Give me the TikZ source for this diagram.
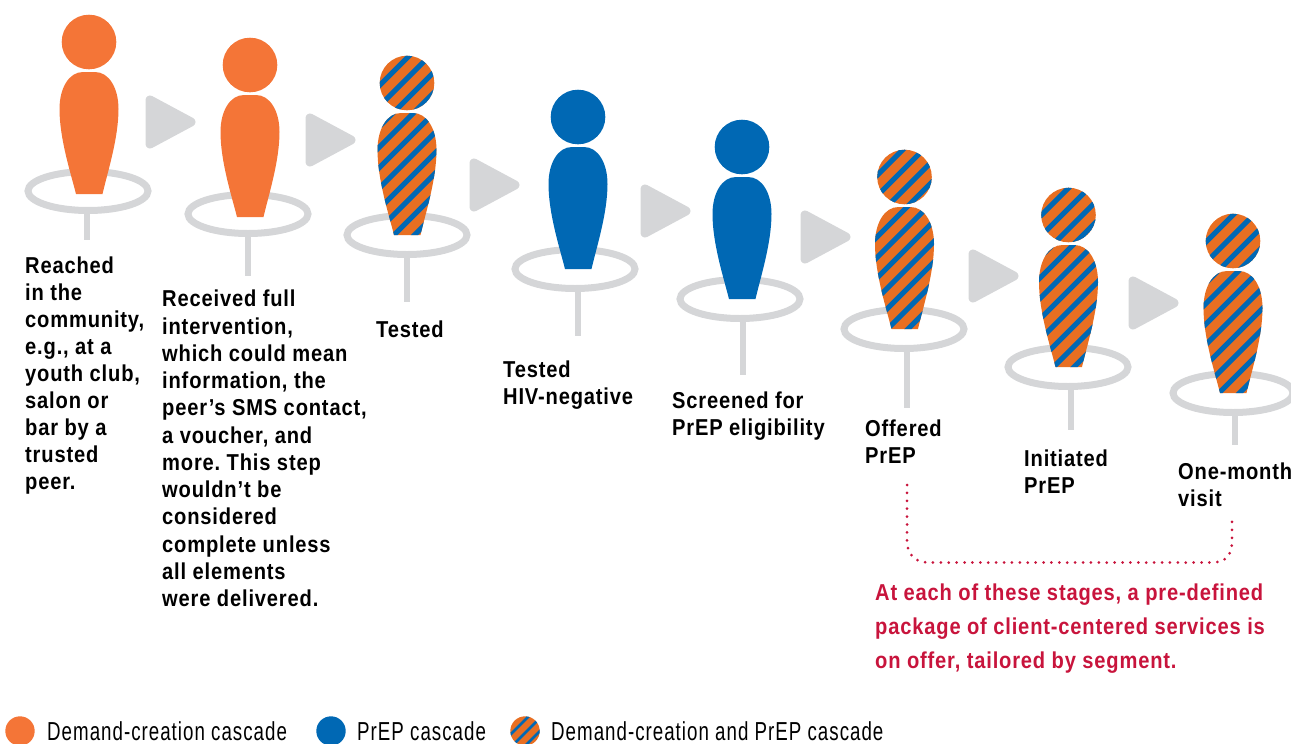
\documentclass[tikz,border=0pt]{standalone}
\usepackage{fontspec}
\newfontfamily\lbf[FakeStretch=0.875,LetterSpace=3.6]{Liberation Sans}
\newfontfamily\lgf[FakeStretch=0.72,LetterSpace=3.9]{Liberation Sans}
\definecolor{orangeS}{HTML}{F47537}
\definecolor{orangeM}{HTML}{E86F22}
\definecolor{blueS}{HTML}{0068B4}
\definecolor{greyS}{HTML}{D5D6D8}
\definecolor{redS}{HTML}{C8143C}
\tikzset{
  x=1pt,y=-1pt,
  ringline/.style={draw=greyS,line width=7pt},
  stemline/.style={draw=greyS,line width=5.5pt},
  flow/.style={fill=greyS,draw=greyS,line width=9pt,line join=round},
  stripe/.style={draw=blueS,line width=5.2pt},
  lab/.style={font=\lbf\bfseries\frenchspacing\fontsize{23}{27}\selectfont,anchor=north west,align=left,inner sep=0pt,text=black},
  longlab/.style={lab,font=\lbf\bfseries\frenchspacing\fontsize{23}{27.25}\selectfont},
  redlab/.style={font=\lbf\bfseries\frenchspacing\fontsize{23}{34}\selectfont,anchor=north west,align=left,inner sep=0pt,text=redS},
  leg/.style={font=\lgf\fontsize{26}{28}\selectfont,anchor=base west,inner sep=0pt,text=black},
  dotline/.style={draw=redS,line width=3pt,line cap=round,dash pattern=on 0pt off 7.9pt}
}
% #1 ring x, #2 ring y, #3 stem x, #4 stem end
\newcommand{\basepin}[4]{%
  \draw[ringline] (#1,#2) ellipse [x radius=60pt,y radius=19.5pt];
  \draw[stemline] (#3,#2+22) -- (#3,#4);
}
\newcommand{\bodypath}[2]{(#1-13,#2) .. controls (#1-18,#2-20) and (#1-29.5,#2-55) .. (#1-29.5,#2-85) .. controls (#1-29.5,#2-106) and (#1-20,#2-122) .. (#1-6,#2-122) -- (#1+6,#2-122) .. controls (#1+20,#2-122) and (#1+29.5,#2-106) .. (#1+29.5,#2-85) .. controls (#1+29.5,#2-55) and (#1+18,#2-20) .. (#1+13.5,#2) -- cycle}
\newcommand{\solidman}[3]{%
  \fill[#3] (#1,#2-152) circle [radius=27.3pt];
  \fill[#3] \bodypath{#1}{#2};
}
% #3 stripe offset
\newcommand{\stripeset}[3]{%
  \fill[orangeM] (#1-40,#2-190) rectangle (#1+40,#2+5);
  \foreach \k in {-9,...,7} {
    \draw[stripe] (#1-70,{#2+(#3)+20.5*\k+70}) -- (#1+70,{#2+(#3)+20.5*\k-70});
  }
}
\newcommand{\stripeman}[3]{%
  \begin{scope}
    \clip (#1,#2-152) circle [radius=27.3pt];
    \stripeset{#1}{#2}{#3}
  \end{scope}
  \begin{scope}
    \clip \bodypath{#1}{#2};
    \stripeset{#1}{#2}{#3}
  \end{scope}
}
\newcommand{\flowarrow}[2]{%
  \fill[flow] (#1+5,#2-22) -- (#1+5,#2+22) -- (#1+46,#2) -- cycle;
}
\begin{document}
\begin{tikzpicture}
\useasboundingbox (0,0) rectangle (1291,744);
\basepin{88}{191}{87}{240}
\basepin{248}{214}{248}{276}
\basepin{407}{235}{407}{302}
\basepin{575}{269}{578}{336}
\basepin{740}{299}{743}{375}
\basepin{904}{329}{907}{408}
\basepin{1068}{367}{1071}{430}
\basepin{1233}{393}{1235}{445}
\flowarrow{145}{122}
\flowarrow{305}{140}
\flowarrow{469}{185}
\flowarrow{640}{211}
\flowarrow{800}{237}
\flowarrow{968}{276}
\flowarrow{1128}{303}
\solidman{89}{194}{orangeS}
\solidman{250}{217}{orangeS}
\stripeman{407}{235}{-13}
\solidman{578}{269}{blueS}
\solidman{742}{299}{blueS}
\stripeman{904.5}{329}{-17}
\stripeman{1068.5}{367}{-15}
\stripeman{1233}{393}{-14}
\node[lab] (t1) at (25,257) {Reached\\in the\\community,\\e.g., at a\\youth club,\\salon or\\bar by a\\trusted\\peer.};
\node[longlab] (t2) at (162,290) {Received full\\intervention,\\which could mean\\information, the\\peer’s SMS contact,\\a voucher, and\\more. This step\\wouldn’t be\\considered\\complete unless\\all elements\\were delivered.};
\node[lab] (t3) at (376,321) {Tested};
\node[lab] (t4) at (503,361) {Tested\\HIV-negative};
\node[lab] (t5) at (672,392) {Screened for\\PrEP eligibility};
\node[lab] (t6) at (865,420) {Offered\\PrEP};
\node[lab] (t7) at (1024,450) {Initiated\\PrEP};
\node[lab] (t8) at (1178,463) {One-month\\visit};
\node[redlab] (t9) at (875,584) {At each of these stages, a pre-defined\\package of client-centered services is\\on offer, tailored by segment.};
\coordinate (da) at (907,485);
\coordinate (db) at (1232,515);
\draw[dotline] (da) -- (907,540) .. controls (907,555) and (915,562) .. (928,562.5) -- (1212,562.5) .. controls (1226,562) and (1232,556) .. (1232,540) -- (db);
\fill[orangeS] (20,731) circle [radius=14.7pt];
\fill[blueS] (331,731) circle [radius=14.7pt];
\begin{scope}
  \clip (525,731) circle [radius=14.7pt];
  \fill[orangeM] (505,710) rectangle (545,750);
  \foreach \k in {-2,...,2} { \draw[blueS,line width=2.6pt] (485,{731+2+13*\k+40}) -- (565,{731+2+13*\k-40}); }
\end{scope}
\node[leg] (l1) at (47,740) {Demand-creation cascade};
\node[leg] (l2) at (357,740) {PrEP cascade};
\node[leg] (l3) at (551,740) {Demand-creation and PrEP cascade};
\end{tikzpicture}
\end{document}
